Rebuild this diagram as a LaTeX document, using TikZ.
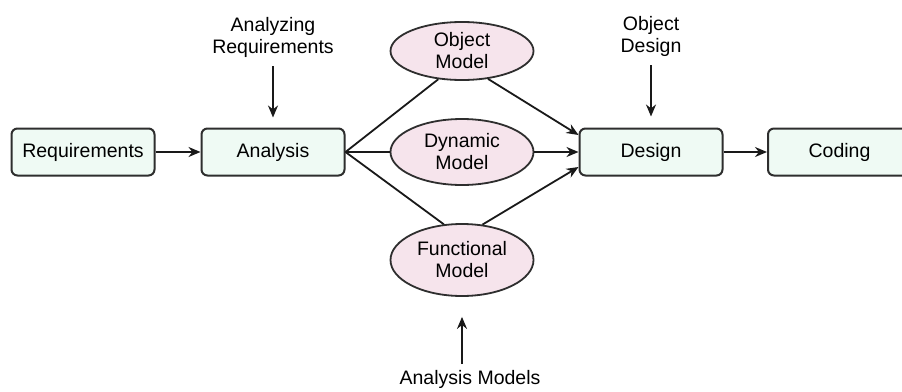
\documentclass[tikz,border=0pt]{standalone}
\usepackage{fontspec}
\setmainfont{Liberation Sans}
\usetikzlibrary{arrows.meta,shapes.geometric,calc}
\definecolor{boxfill}{HTML}{EFFAF4}
\definecolor{ellfill}{HTML}{F6E4EC}
\definecolor{edgecol}{HTML}{2E2E2E}
\begin{document}
\begin{tikzpicture}[x=1pt,y=-1pt,
  font=\fontsize{19.5}{22}\selectfont,
  stepbox/.style={draw=edgecol, line width=2pt, rounded corners=6pt, fill=boxfill,
    minimum width=143pt, minimum height=47pt, inner sep=0pt},
  model/.style={ellipse, draw=edgecol, line width=1.8pt, fill=ellfill,
    minimum width=143pt, inner sep=0pt, align=center},
  lbl/.style={align=center, inner sep=0pt},
  conn/.style={line width=1.8pt, draw=black!90},
  arr/.style={conn, -{Stealth[length=12pt,width=10pt]}}
]
\clip (0,0) rectangle (902,391);
\fill[white] (0,0) rectangle (902,391);

\node[stepbox] (req) at (83,152) {Requirements};
\node[stepbox] (ana) at (273,152) {Analysis};
\node[stepbox] (des) at (651,152) {Design};
\node[stepbox] (cod) at (839.5,152) {Coding};

\node[model, minimum height=58pt] (obj) at (462,51) {Object\\Model};
\node[model, minimum height=66pt] (dyn) at (462,152) {Dynamic\\Model};
\node[model, minimum height=72pt] (fun) at (462,260) {Functional\\Model};

\node[lbl] (areq) at (273,37) {Analyzing\\Requirements};
\node[lbl] (odes) at (651,36) {Object\\Design};
\node[lbl] (amod) at (470,379) {Analysis Models};

\coordinate (amodtop) at (462,364);

\draw[arr] (req) -- (ana);
\draw[arr] (des) -- (cod);

\draw[conn] (ana.east) -- (obj.230);
\draw[conn] (ana.east) -- (dyn.west);
\draw[conn] (ana.east) -- (fun.117);

\draw[arr] (obj.313) -- ($(des.west)+(0,-17)$);
\draw[arr] (dyn.east) -- (des.west);
\draw[arr] (fun.60) -- ($(des.west)+(0,15)$);

\draw[arr, shorten <=9pt, shorten >=10pt] (areq.south) -- (ana.north);
\draw[arr, shorten <=9pt, shorten >=11pt] (odes.south) -- (des.north);
\draw[arr, shorten >=20pt] (amodtop) -- (fun.south);
\end{tikzpicture}
\end{document}
